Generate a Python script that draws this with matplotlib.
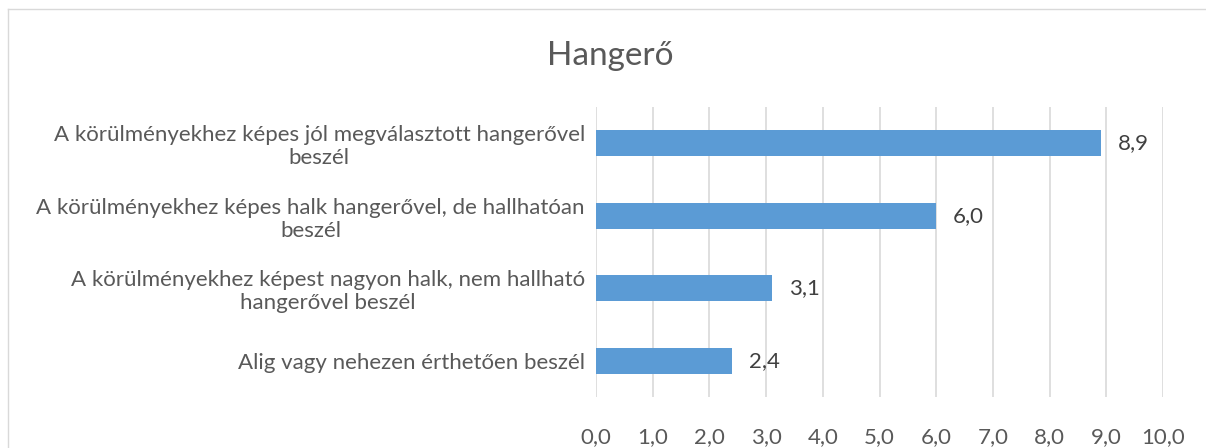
import matplotlib.pyplot as plt
from matplotlib import ticker
from matplotlib.lines import Line2D

categories = [
    "A körülményekhez képes jól megválasztott hangerővel\nbeszél",
    "A körülményekhez képes halk hangerővel, de hallhatóan\nbeszél",
    "A körülményekhez képest nagyon halk, nem hallható\nhangerővel beszél",
    "Alig vagy nehezen érthetően beszél",
]
values = [8.9, 6.0, 3.1, 2.4]

plt.rcParams['font.family'] = ['Lato', 'DejaVu Sans']

fig = plt.figure(figsize=(12.06, 4.48), dpi=100)
ax = fig.add_axes([596 / 1206, 1 - 397 / 448, 567 / 1206, 290 / 448])

pos = list(range(len(values)))
ax.barh(pos, values, height=0.36, color="#5B9BD5", zorder=3)
for p, v in zip(pos, values):
    ax.text(v + 0.3, p, f"{v:.1f}".replace(".", ","), va="center", ha="left",
            fontsize=16, color="#404040")

ax.set_xlim(0, 10)
ax.set_ylim(len(values) - 0.5, -0.5)
ax.set_yticks(pos)
ax.set_yticklabels(categories, fontsize=16, color="#595959", multialignment="center")
ax.xaxis.set_major_locator(ticker.MultipleLocator(1))
ax.xaxis.set_major_formatter(ticker.FuncFormatter(lambda x, _: f"{x:.1f}".replace(".", ",")))
ax.tick_params(axis="x", labelsize=16, labelcolor="#595959", length=0, pad=22)
ax.tick_params(axis="y", length=0, pad=8)
ax.grid(axis="x", color="#D9D9D9", linewidth=1.2, zorder=0)
for s in ax.spines.values():
    s.set_visible(False)

fig.text(610 / 1206, 1 - 56 / 448, "Hangerő", ha="center", va="center",
         fontsize=24, color="#595959")

# chart area border
fig.add_artist(Line2D([8 / 1206, 8 / 1206], [0, 1 - 9 / 448], transform=fig.transFigure,
                      color="#D9D9D9", linewidth=1))
fig.add_artist(Line2D([8 / 1206, 1], [1 - 9 / 448, 1 - 9 / 448], transform=fig.transFigure,
                      color="#D9D9D9", linewidth=1))

fig.savefig("out.png", dpi=100)
